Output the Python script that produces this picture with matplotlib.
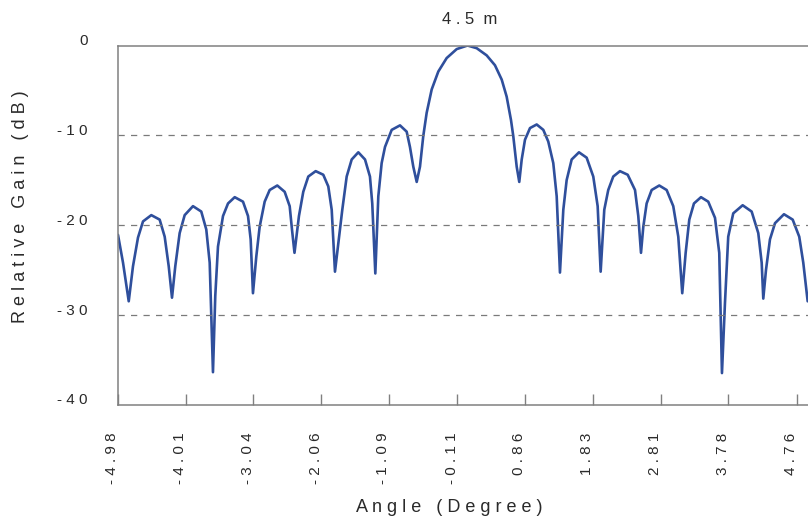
import numpy as np
import matplotlib
matplotlib.use('Agg')
import matplotlib.pyplot as plt
from matplotlib.transforms import ScaledTranslation

plt.rcParams['font.family'] = ['Liberation Sans', 'DejaVu Sans']

# beam pattern: angle (deg) and relative gain (dB)
angle = [-4.980, -4.908, -4.826, -4.765, -4.693, -4.621, -4.502, -4.382, -4.310, -4.252,
         -4.205, -4.158, -4.095, -4.023, -3.904, -3.785, -3.713, -3.664, -3.617, -3.584,
         -3.545, -3.473, -3.401, -3.305, -3.186, -3.114, -3.076, -3.043, -2.995, -2.947,
         -2.875, -2.803, -2.694, -2.588, -2.516, -2.483, -2.447, -2.383, -2.321, -2.249,
         -2.143, -2.034, -1.962, -1.913, -1.866, -1.761, -1.698, -1.626, -1.531, -1.435,
         -1.364, -1.331, -1.287, -1.244, -1.196, -1.148, -1.052, -0.933, -0.837, -0.790,
         -0.742, -0.693, -0.646, -0.599, -0.550, -0.478, -0.383, -0.263, -0.119, 0.036,
         0.168, 0.311, 0.430, 0.527, 0.598, 0.660, 0.693, 0.742, 0.779, 0.814,
         0.861, 0.933, 1.029, 1.124, 1.195, 1.267, 1.316, 1.363, 1.411, 1.459,
         1.531, 1.636, 1.746, 1.841, 1.904, 1.947, 1.999, 2.056, 2.128, 2.224,
         2.335, 2.440, 2.487, 2.526, 2.559, 2.607, 2.679, 2.788, 2.894, 2.989,
         3.061, 3.118, 3.167, 3.219, 3.286, 3.387, 3.491, 3.588, 3.649, 3.688,
         3.731, 3.778, 3.850, 3.985, 4.114, 4.209, 4.258, 4.281, 4.320, 4.377,
         4.449, 4.578, 4.703, 4.797, 4.855, 4.918]
gain = [-21.1, -24.2, -28.5, -24.6, -21.4, -19.6, -18.9, -19.4, -21.3, -24.6,
        -28.1, -24.6, -20.9, -18.9, -17.9, -18.5, -20.5, -24.2, -36.4, -27.9,
        -22.4, -19.0, -17.6, -16.9, -17.4, -19.0, -21.6, -27.6, -23.5, -20.2,
        -17.4, -16.1, -15.6, -16.3, -17.9, -20.5, -23.1, -19.0, -16.3, -14.6,
        -14.0, -14.4, -15.7, -18.3, -25.2, -18.3, -14.6, -12.7, -11.9, -12.7,
        -14.6, -17.6, -25.4, -16.8, -13.1, -11.3, -9.4, -8.9, -9.6, -11.3,
        -13.5, -15.2, -13.5, -10.1, -7.5, -4.9, -2.9, -1.4, -0.4, 0.0,
        -0.3, -1.1, -2.2, -3.8, -5.7, -8.3, -10.1, -13.5, -15.2, -12.7,
        -10.5, -9.2, -8.8, -9.4, -10.7, -13.1, -16.8, -25.3, -18.3, -15.0,
        -12.7, -11.9, -12.5, -14.6, -17.9, -25.2, -18.3, -16.1, -14.6, -14.0,
        -14.4, -16.1, -19.0, -23.1, -20.2, -17.6, -16.1, -15.6, -16.1, -17.9,
        -21.3, -27.6, -23.1, -19.4, -17.6, -16.9, -17.4, -19.2, -23.1, -36.5,
        -28.7, -21.3, -18.7, -17.8, -18.5, -20.9, -24.2, -28.2, -25.0, -21.6,
        -19.8, -18.8, -19.4, -21.3, -24.2, -28.5]

x_ticks = [-4.98, -4.01, -3.04, -2.06, -1.09, -0.11, 0.86, 1.83, 2.81, 3.78, 4.76]
x_labels = ['-4.98', '-4.01', '-3.04', '-2.06', '-1.09', '-0.11', '0.86', '1.83', '2.81', '3.78', '4.76']
y_ticks = [0, -10, -20, -30, -40]
y_labels = ['0', '-10', '-20', '-30', '-40']
grid_levels = [-10, -20, -30]

def spread(s):
    # the original is letter-spaced
    return ' '.join(s)

txt = '#2a2a2a'
edge = '#808080'

fig = plt.figure(figsize=(8.08, 5.22), dpi=100)
ax = fig.add_axes([118/808, 117.5/522, 702/808, 359/522])

ax.plot(angle, gain, color='#2f4f9c', linewidth=1.9,
        solid_joinstyle='round', solid_capstyle='round')
for g in grid_levels:
    ax.axhline(g, color='#7a7a7a', linewidth=0.9, linestyle=(0, (5, 5)))

ax.set_xlim(-4.98, 5.095)
ax.set_ylim(-40, 0)

ax.set_xticks(x_ticks)
ax.set_xticklabels([spread(s) for s in x_labels], rotation=90, fontsize=11, color=txt)
ax.set_yticks(y_ticks)
ax.set_yticklabels([spread(s) for s in y_labels], fontsize=11, color=txt)
ax.tick_params(axis='x', direction='in', length=8, width=1, color=edge, pad=20)
ax.tick_params(axis='y', length=0, pad=22)

for lbl in ax.get_xticklabels():
    lbl.set_transform(lbl.get_transform() + ScaledTranslation(-4/72, 0, fig.dpi_scale_trans))
for lbl in ax.get_yticklabels():
    lbl.set_transform(lbl.get_transform() + ScaledTranslation(0, 4/72, fig.dpi_scale_trans))

for side in ['left', 'top', 'bottom']:
    ax.spines[side].set_color(edge)
    ax.spines[side].set_linewidth(1.1)
ax.spines['right'].set_visible(False)

fig.text(470/808, 1 - 20/522, spread('4.5') + '  m', ha='center', va='center', fontsize=12, color=txt)
fig.text(449/808, 1 - 508/522, spread('Angle') + '   ' + spread('(Degree)'),
         ha='center', va='center', fontsize=13, color=txt)
fig.text(21/808, 1 - 207/522, spread('Relative') + '   ' + spread('Gain') + '   ' + spread('(dB)'),
         ha='center', va='center', rotation=90, fontsize=13, color=txt)

fig.savefig('out.png', dpi=100, facecolor='white')
